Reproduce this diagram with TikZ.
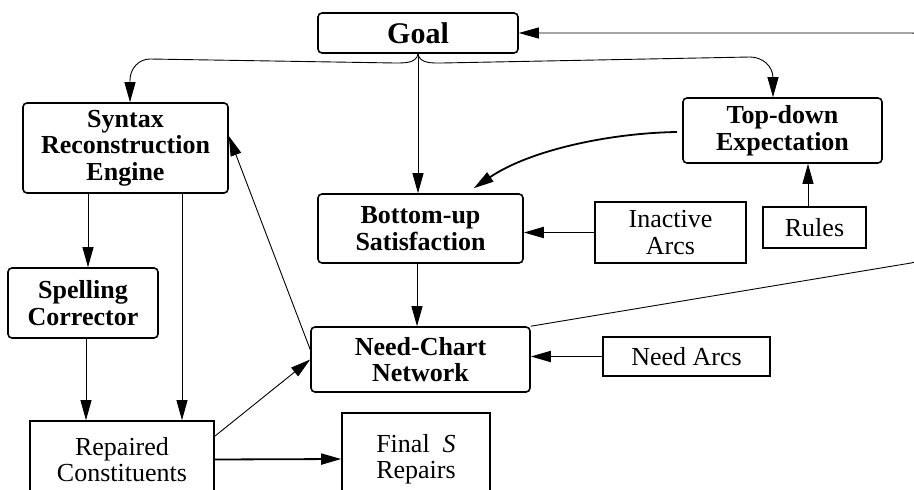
\documentclass[tikz,border=0pt]{standalone}
\usepackage{fontspec}
\setmainfont{Liberation Serif}
\usetikzlibrary{arrows.meta}

\begin{document}
\begin{tikzpicture}[x=1pt,y=-1pt,
		roundbox/.style={draw,line width=1.6pt,rounded corners=4pt,inner sep=0pt,align=center,font=\fontsize{26}{26.5}\selectfont\bfseries},
		plainbox/.style={draw,line width=1.6pt,inner sep=0pt,align=center,font=\fontsize{26}{26.5}\selectfont},
		arr/.style={-{Triangle[length=20pt,width=11pt]},line width=0.9pt},
		thickarr/.style={arr,line width=1.8pt}]
		\useasboundingbox (0,0) rectangle (914,490);

		\node[roundbox,minimum width=200pt,minimum height=40pt,font=\fontsize{30}{30}\selectfont\bfseries]	(goal)	at (418,33)		{Goal};
		\node[roundbox,minimum width=205pt,minimum height=90pt]		(syn)	at (125.5,148)	{Syntax\\Reconstruction\\Engine};
		\node[roundbox,minimum width=199pt,minimum height=65pt]		(td)	at (782.5,130.5)	{Top-down\\Expectation};
		\node[roundbox,minimum width=205pt,minimum height=69pt]		(bu)	at (420.5,228.5)	{Bottom-up\\Satisfaction};
		\node[plainbox,minimum width=151pt,minimum height=61pt]		(ia)	at (670.5,232.5)	{Inactive\\Arcs};
		\node[plainbox,minimum width=103pt,minimum height=41pt]		(rules)	at (814.5,227.5)	{Rules};
		\node[roundbox,minimum width=150pt,minimum height=70pt]		(spell)	at (83,303)		{Spelling\\Corrector};
		\node[roundbox,minimum width=219pt,minimum height=65pt]		(nc)	at (420.5,359.5)	{Need-Chart\\Network};
		\node[plainbox,minimum width=167pt,minimum height=39pt]		(na)	at (686.5,356.5)	{Need Arcs};
		\node[plainbox,minimum width=184pt,minimum height=77pt]		(rep)	at (122,459.5)	{Repaired\\Constituents};
		\node[plainbox,minimum width=148pt,minimum height=92pt]		(fin)	at (416,459)		{Final\ \ \textit{S}\\Repairs};

		\coordinate (tdout) at (677,132);

		\draw[arr] (goal.south) to[out=-100,in=0] (395,63) -- (150,59) to[out=180,in=90] ([xshift=4.5pt]syn.north |- 0,80) -- ([xshift=4.5pt]syn.north);
		\draw[arr] (goal.south) to[out=-80,in=180] (442,63) -- (750,57) to[out=0,in=90] ([xshift=-9.5pt]td.north |- 0,78) -- ([xshift=-9.5pt]td.north);
		\draw[arr] (goal.south) -- (goal.south |- bu.north);
		\draw[arr] (nc.north east) -- (911,263) to[out=10,in=-90] (930,240) -- (930,50) to[out=90,in=0] (912,33) -- (goal.east);
		\draw[thickarr] (tdout) .. controls (610,133) and (530,150) .. ([xshift=-50pt,yshift=5pt]bu.north east);
		\draw[arr] ([xshift=-6.5pt]rules.north) -- ([xshift=-6.5pt]rules.north |- td.south);
		\draw[thickarr] (ia.west) -- (ia.west -| bu.east);
		\draw[arr] ([xshift=-3.5pt]bu.south) -- ([xshift=-3.5pt]bu.south |- nc.north);
		\draw[thickarr] (na.west) -- (na.west -| nc.east);
		\draw[arr] ([xshift=-37.5pt]syn.south) -- ([xshift=-37.5pt]syn.south |- spell.north);
		\draw[arr] ([xshift=56.5pt]syn.south) -- ([xshift=56.5pt]syn.south |- rep.north);
		\draw[arr] ([xshift=3pt]spell.south) -- ([xshift=3pt]spell.south |- rep.north);
		\draw[arr] ([yshift=10pt]nc.west) -- ([yshift=12pt]syn.east);
		\draw[arr] ([yshift=-16pt]rep.north east) -- (nc.west);
		\draw[thickarr] (rep.east) -- (fin.west);
	\end{tikzpicture}
\end{document}
